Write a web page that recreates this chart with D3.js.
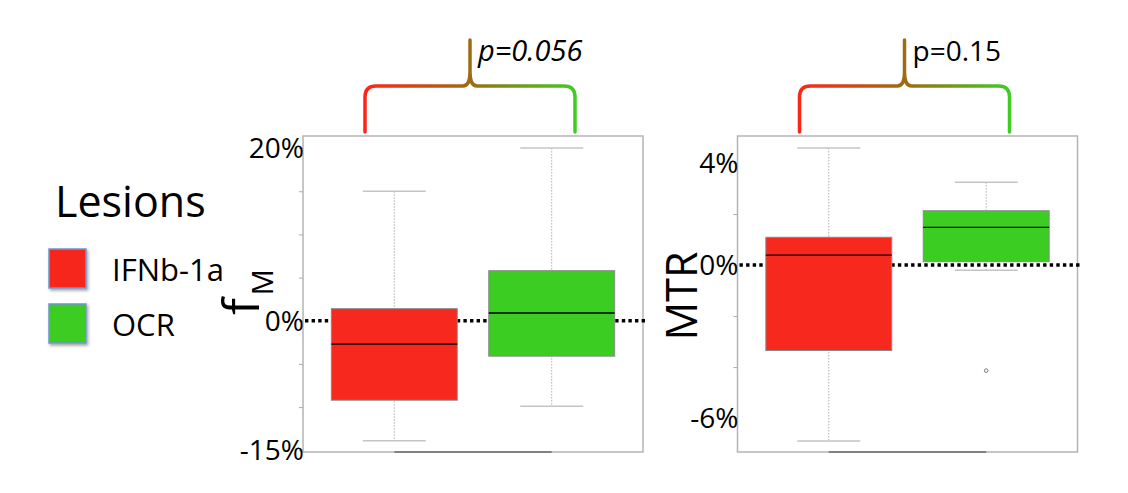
<!DOCTYPE html>
<html>
<head>
<meta charset="utf-8">
<script src="https://cdn.jsdelivr.net/npm/d3@7"></script>
<style>
  body { margin: 0; background: #fff; }
  text { font-family: "Open Sans", "Noto Sans", sans-serif; fill: #000; }
</style>
</head>
<body>
<svg id="chart" width="1128" height="493"></svg>
<script>

// groups and colours
const groups = ["IFNb-1a", "OCR"];
const groupColors = ["#f7281d", "#3ccd23"];

// fM panel (percent)
const fmWhiskerLow  = [-13.9, -9.9];
const fmQ1          = [-9.2, -4.1];
const fmMedian      = [-2.7, 0.9];
const fmQ3          = [1.4, 5.8];
const fmWhiskerHigh = [15.0, 20.0];
const fmOutliers    = [[], []];
const fmDomain      = [-15.2, 21.4];
const fmTicks       = [-15, -10, -5, 0, 5, 10, 15, 20];
const fmTickLabels  = [[20, "20%"], [0, "0%"], [-15, "-15%"]];
const fmPValue      = "p=0.056";

// MTR panel (percent)
const mtrWhiskerLow  = [-6.9, -0.2];
const mtrQ1          = [-3.35, 0.13];
const mtrMedian      = [0.39, 1.48];
const mtrQ3          = [1.09, 2.13];
const mtrWhiskerHigh = [4.59, 3.25];
const mtrOutliers    = [[], [-4.14]];
const mtrDomain      = [-7.33, 5.06];
const mtrTicks       = [-6, -4, -2, 0, 2, 4];
const mtrTickLabels  = [[4, "4%"], [0, "0%"], [-6, "-6%"]];
const mtrPValue      = "p=0.15";

const svg = d3.select('#chart');
const defs = svg.append('defs');

defs.append('filter').attr('id', 'shadow')
	.attr('x', '-20%').attr('y', '-20%').attr('width', '150%').attr('height', '150%')
	.append('feDropShadow')
	.attr('dx', 1.5).attr('dy', 2).attr('stdDeviation', 1.5)
	.attr('flood-color', '#000').attr('flood-opacity', 0.35);

//Legend
svg.append('text')
	.attr('x', 55).attr('y', 217)
	.style('font-size', '43px')
	.text('Lesions');

const legend = svg.append('g').attr('class', 'legend');
groups.forEach(function(g, i) {
	const y = 249 + i * 55;
	legend.append('rect')
		.attr('x', 49).attr('y', y)
		.attr('width', 37).attr('height', 39)
		.attr('fill', groupColors[i])
		.attr('stroke', '#6d97cf')
		.attr('stroke-width', 1.5)
		.attr('filter', 'url(#shadow)');
	legend.append('text')
		.attr('x', 112).attr('y', y + 32)
		.style('font-size', '31px')
		.text(g);
});

function draw_panel(id, x0, stats, domain, ticks, tickLabels, pText, italic, pSize) {
	const W = 340, top = 136, bottom = 452;
	const g = svg.append('g').attr('class', 'panel-' + id);

	const x = d3.scaleBand().domain(groups)
		.range([x0, x0 + W])
		.paddingInner(0.2).paddingOuter(0.18);
	const y = d3.scaleLinear().domain(domain).range([bottom, top]);

	//frame
	g.append('rect')
		.attr('x', x0).attr('y', top)
		.attr('width', W).attr('height', bottom - top)
		.attr('fill', 'none')
		.attr('stroke', '#b4b4b4')
		.attr('stroke-width', 1.5);

	//y ticks
	const yAxis = d3.axisLeft(y).tickValues(ticks).tickSize(4).tickFormat('');
	const ya = g.append('g').attr('transform', 'translate(' + x0 + ',0)').call(yAxis);
	ya.select('.domain').remove();
	ya.selectAll('line').attr('stroke', '#aaa');

	//x axis line between the two groups
	g.append('line')
		.attr('x1', x(groups[0]) + x.bandwidth() / 2)
		.attr('x2', x(groups[1]) + x.bandwidth() / 2)
		.attr('y1', bottom).attr('y2', bottom)
		.attr('stroke', '#6a6a6a').attr('stroke-width', 1.5);

	//tick labels
	tickLabels.forEach(function(t) {
		g.append('text')
			.attr('x', x0 + 1).attr('y', y(t[0]))
			.attr('dy', '0.36em')
			.attr('text-anchor', 'end')
			.style('font-size', '28px')
			.text(t[1]);
	});

	//zero reference
	g.append('line')
		.attr('x1', x0 + 2).attr('x2', x0 + W + 4)
		.attr('y1', y(0)).attr('y2', y(0))
		.attr('stroke', '#000')
		.attr('stroke-width', 3.5)
		.attr('stroke-dasharray', '3.4,3.2');

	const cw = x.bandwidth() * 0.5;
	groups.forEach(function(grp, i) {
		const cx = x(grp) + x.bandwidth() / 2;
		//whiskers
		g.append('line')
			.attr('x1', cx).attr('x2', cx)
			.attr('y1', y(stats.hi[i])).attr('y2', y(stats.lo[i]))
			.attr('stroke', '#b0b0b0').attr('stroke-width', 1)
			.attr('stroke-dasharray', '1.5,1.5');
		[stats.hi[i], stats.lo[i]].forEach(function(v) {
			g.append('line')
				.attr('x1', cx - cw / 2).attr('x2', cx + cw / 2)
				.attr('y1', y(v)).attr('y2', y(v))
				.attr('stroke', '#c4c4c4').attr('stroke-width', 1.5);
		});
		//box
		g.append('rect')
			.attr('x', x(grp)).attr('y', y(stats.q3[i]))
			.attr('width', x.bandwidth())
			.attr('height', y(stats.q1[i]) - y(stats.q3[i]))
			.attr('fill', groupColors[i])
			.attr('stroke', '#8a8a8a').attr('stroke-width', 1);
		g.append('line')
			.attr('x1', x(grp)).attr('x2', x(grp) + x.bandwidth())
			.attr('y1', y(stats.med[i])).attr('y2', y(stats.med[i]))
			.attr('stroke', '#000').attr('stroke-width', 1.3);
		stats.out[i].forEach(function(v) {
			g.append('circle')
				.attr('cx', cx).attr('cy', y(v)).attr('r', 1.8)
				.attr('fill', 'none').attr('stroke', '#777').attr('stroke-width', 1);
		});
	});

	//brace with p value
	const xl = x0 + 62, xr = x0 + 272, xc = (xl + xr) / 2;
	const hy = 86, by = 132, py = 40, r = 11, c = 7;
	const grad = defs.append('linearGradient').attr('id', 'grad-' + id)
		.attr('gradientUnits', 'userSpaceOnUse')
		.attr('x1', xl).attr('x2', xr).attr('y1', 0).attr('y2', 0);
	grad.append('stop').attr('offset', '0%').attr('stop-color', '#ff2418');
	grad.append('stop').attr('offset', '50%').attr('stop-color', '#9c6c14');
	grad.append('stop').attr('offset', '100%').attr('stop-color', '#3ecd22');

	const p = d3.path();
	p.moveTo(xl, by);
	p.lineTo(xl, hy + r);
	p.quadraticCurveTo(xl, hy, xl + r, hy);
	p.lineTo(xc - c, hy);
	p.quadraticCurveTo(xc, hy, xc, hy - c * 2);
	p.lineTo(xc, py);
	p.moveTo(xc, hy - c * 2);
	p.quadraticCurveTo(xc, hy, xc + c, hy);
	p.lineTo(xr - r, hy);
	p.quadraticCurveTo(xr, hy, xr, hy + r);
	p.lineTo(xr, by);
	g.append('path')
		.attr('d', p.toString())
		.attr('fill', 'none')
		.attr('stroke', 'url(#grad-' + id + ')')
		.attr('stroke-width', 3.5)
		.attr('stroke-linecap', 'round')
		.attr('stroke-linejoin', 'round');

	g.append('text')
		.attr('x', xc + 8).attr('y', 61)
		.style('font-size', pSize + 'px')
		.style('font-style', italic ? 'italic' : 'normal')
		.text(pText);
}

draw_panel('fm', 303,
	{lo: fmWhiskerLow, q1: fmQ1, med: fmMedian, q3: fmQ3, hi: fmWhiskerHigh, out: fmOutliers},
	fmDomain, fmTicks, fmTickLabels, fmPValue, true, 29);
draw_panel('mtr', 737.5,
	{lo: mtrWhiskerLow, q1: mtrQ1, med: mtrMedian, q3: mtrQ3, hi: mtrWhiskerHigh, out: mtrOutliers},
	mtrDomain, mtrTicks, mtrTickLabels, mtrPValue, false, 28);

//y titles
const fm = svg.append('text')
	.attr('transform', 'translate(259,315) rotate(-90)');
fm.append('tspan').style('font-size', '50px').text('f');
fm.append('tspan').style('font-size', '29px').attr('dx', 3).attr('dy', 14).text('M');

svg.append('text')
	.attr('transform', 'translate(697,296) rotate(-90)')
	.attr('text-anchor', 'middle')
	.style('font-size', '43px')
	.text('MTR');

</script>
</body>
</html>
